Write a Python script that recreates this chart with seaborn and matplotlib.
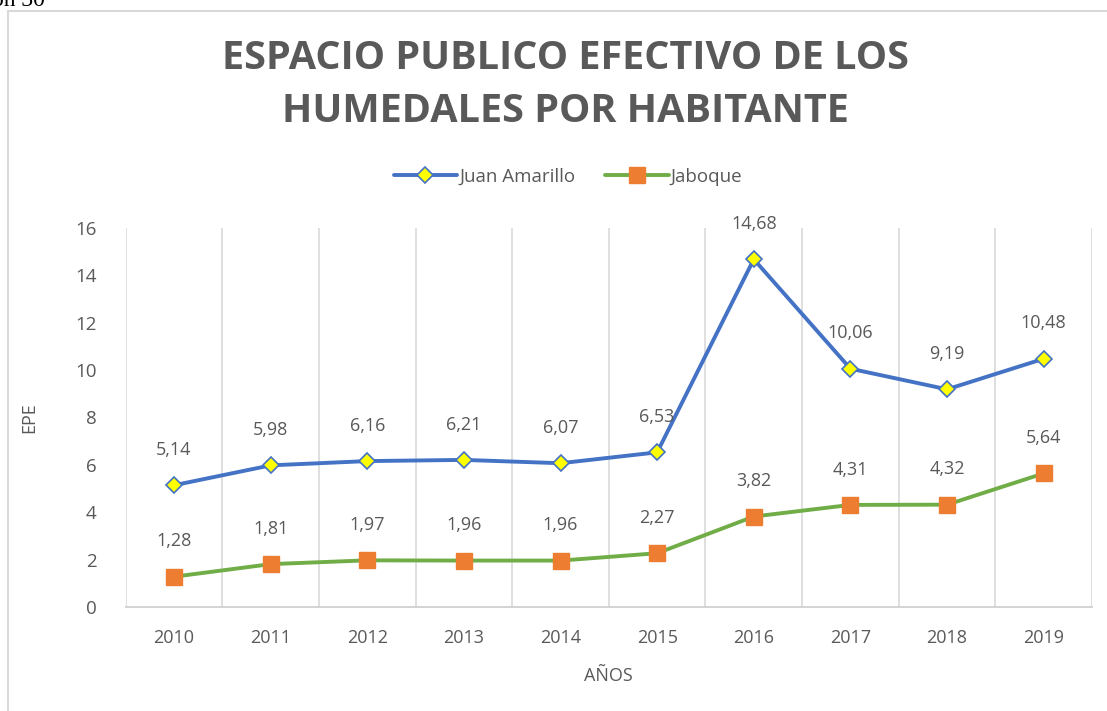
import matplotlib
matplotlib.use("Agg")
import matplotlib.pyplot as plt
import seaborn as sns
import pandas as pd
from matplotlib.patches import Rectangle

years = ["2010", "2011", "2012", "2013", "2014", "2015", "2016", "2017", "2018", "2019"]
juan_amarillo = [5.14, 5.98, 6.16, 6.21, 6.07, 6.53, 14.68, 10.06, 9.19, 10.48]
jaboque = [1.28, 1.81, 1.97, 1.96, 1.96, 2.27, 3.82, 4.31, 4.32, 5.64]
y_ticks = [0, 2, 4, 6, 8, 10, 12, 14, 16]

sns.set_theme(style="white")
plt.rcParams['font.family'] = ['Open Sans', 'DejaVu Sans']

GRAY = "#595959"
BLUE = "#4472C4"
GREEN = "#70AD47"
ORANGE = "#ED7D31"

df = pd.DataFrame({"idx": list(range(len(years))), "year": years,
                   "ja": juan_amarillo, "jb": jaboque})

fig = plt.figure(figsize=(11.07, 7.11), dpi=100)
W, H = 1107, 711
AX_L, AX_R, AX_T, AX_B = 125.7, 1092, 228, 607
ax = fig.add_axes([AX_L / W, 1 - AX_B / H, (AX_R - AX_L) / W, (AX_B - AX_T) / H])

sns.lineplot(data=df, x="idx", y="ja", ax=ax, color=BLUE, linewidth=2.8,
             marker="D", markersize=8.5, markerfacecolor="#FFFF00",
             markeredgecolor=BLUE, markeredgewidth=1.2, label="Juan Amarillo", zorder=5)
sns.lineplot(data=df, x="idx", y="jb", ax=ax, color=GREEN, linewidth=2.8,
             marker="s", markersize=11, markerfacecolor=ORANGE,
             markeredgecolor=ORANGE, markeredgewidth=1.0, label="Jaboque", zorder=5)

for i in range(len(years)):
    for v in (juan_amarillo[i], jaboque[i]):
        ax.annotate(f"{v:.2f}".replace(".", ","), (i, v), xytext=(0, 19),
                    textcoords="offset points", ha="center", va="bottom",
                    fontsize=13, color=GRAY, zorder=6)

ax.set_xlim(-0.5, len(years) - 0.5)
ax.set_ylim(0, 16)
ax.set_yticks(y_ticks)
ax.set_yticklabels([str(t) for t in y_ticks], fontsize=13.5, color=GRAY)
ax.set_xticks(range(len(years)))
ax.set_xticklabels(years, fontsize=13, color=GRAY)
ax.tick_params(axis="both", length=0)
ax.tick_params(axis="y", pad=21)
ax.tick_params(axis="x", pad=16)

for b in [i - 0.5 for i in range(len(years) + 1)]:
    ax.axvline(b, color="#D9D9D9", linewidth=1.2, zorder=0)
for s in ["top", "right", "left"]:
    ax.spines[s].set_visible(False)
ax.spines["bottom"].set_color("#D0D0D0")
ax.spines["bottom"].set_linewidth(1.3)

ax.set_xlabel("AÑOS", fontsize=13, color=GRAY, labelpad=14)
ax.set_ylabel("EPE", fontsize=13, color=GRAY)
ax.yaxis.set_label_coords((38 - AX_L) / (AX_R - AX_L), 0.5)

leg = ax.legend(loc="center", bbox_to_anchor=(568 / W, 1 - 177 / H),
                bbox_transform=fig.transFigure, ncol=2, frameon=False,
                fontsize=13.5, handlelength=3.4, columnspacing=1.6, handletextpad=0.1)
for t in leg.get_texts():
    t.set_color(GRAY)

fig.text(565 / W, 1 - 85 / H, "ESPACIO PUBLICO EFECTIVO DE LOS\nHUMEDALES POR HABITANTE",
         ha="center", va="center", fontsize=28.5, fontweight="bold", color=GRAY,
         linespacing=1.45)

fig.patches.append(Rectangle((8 / W, -0.1), 1.2, 1 - 11 / H + 0.1, transform=fig.transFigure,
                             fill=False, edgecolor="#D9D9D9", linewidth=1.5, zorder=0))
fig.text(45 / W, 1 - 6 / H, "ón 30", ha="right", va="baseline", fontsize=17,
         family=["Liberation Serif"], color="black")

fig.savefig("out.png", dpi=100, facecolor="white")
